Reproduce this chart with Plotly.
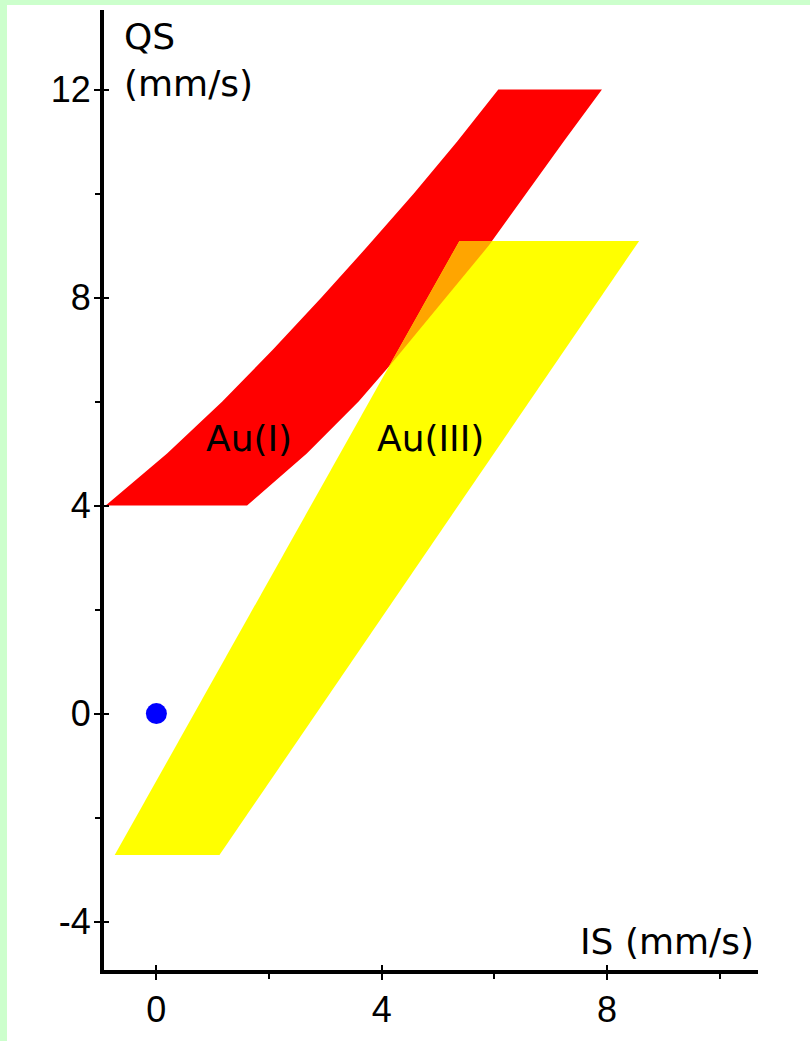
import plotly.graph_objects as go

# Au(I) region outline: upper-left edge (bottom to top), then lower-right edge (top to bottom)
au1_is = [-0.90, 0.19, 1.17, 2.07, 2.93, 3.76, 4.57, 5.34, 6.07,
          7.91, 7.23, 6.56, 5.90, 5.14, 4.39, 3.59, 2.67, 1.61]
au1_qs = [4.0, 5.0, 6.0, 7.0, 8.0, 9.0, 10.0, 11.0, 12.0,
          12.0, 11.0, 10.0, 9.0, 8.0, 7.0, 6.0, 5.0, 4.0]

# Au(III) region corners
au3_is = [-0.74, 1.12, 8.57, 5.38]
au3_qs = [-2.72, -2.72, 9.09, 9.09]

# Reference point
ref_is = [0.0]
ref_qs = [0.0]

x_ticks = [0, 4, 8]
y_ticks = [-4, 0, 4, 8, 12]

TICK_FONT = "Arial, Liberation Sans, sans-serif"
TEXT_FONT = "DejaVu Sans, Arial, sans-serif"
FS = 36
ML, MR, MT, MB = 104, 52, 10, 71
W, H = 810, 1041


def clip_polygon(subject, clipper):
    """Sutherland-Hodgman clipping of a polygon by a convex polygon."""
    def area2(poly):
        s = 0.0
        for i in range(len(poly)):
            x1, y1 = poly[i]
            x2, y2 = poly[(i + 1) % len(poly)]
            s += x1 * y2 - x2 * y1
        return s

    sign = 1.0 if area2(clipper) > 0 else -1.0

    def inside(p, a, b):
        return sign * ((b[0] - a[0]) * (p[1] - a[1]) - (b[1] - a[1]) * (p[0] - a[0])) >= 0

    def intersect(p, q, a, b):
        x1, y1 = p
        x2, y2 = q
        x3, y3 = a
        x4, y4 = b
        den = (x1 - x2) * (y3 - y4) - (y1 - y2) * (x3 - x4)
        t = ((x1 - x3) * (y3 - y4) - (y1 - y3) * (x3 - x4)) / den
        return (x1 + t * (x2 - x1), y1 + t * (y2 - y1))

    out = list(subject)
    for i in range(len(clipper)):
        a = clipper[i]
        b = clipper[(i + 1) % len(clipper)]
        inp = out
        out = []
        if not inp:
            break
        prev = inp[-1]
        for cur in inp:
            if inside(cur, a, b):
                if not inside(prev, a, b):
                    out.append(intersect(prev, cur, a, b))
                out.append(cur)
            elif inside(prev, a, b):
                out.append(intersect(prev, cur, a, b))
            prev = cur
    return out


overlap = clip_polygon(list(zip(au1_is, au1_qs)), list(zip(au3_is, au3_qs)))
ov_is = [p[0] for p in overlap]
ov_qs = [p[1] for p in overlap]

fig = go.Figure()

fig.add_trace(go.Scatter(
    x=au1_is + [au1_is[0]], y=au1_qs + [au1_qs[0]],
    fill="toself", fillcolor="#FF0000", mode="lines",
    line=dict(width=0, color="#FF0000"), hoverinfo="skip", showlegend=False))

fig.add_trace(go.Scatter(
    x=au3_is + [au3_is[0]], y=au3_qs + [au3_qs[0]],
    fill="toself", fillcolor="#FFFF00", mode="lines",
    line=dict(width=0, color="#FFFF00"), hoverinfo="skip", showlegend=False))

fig.add_trace(go.Scatter(
    x=ov_is + [ov_is[0]], y=ov_qs + [ov_qs[0]],
    fill="toself", fillcolor="#FFA500", mode="lines",
    line=dict(width=0, color="#FFA500"), hoverinfo="skip", showlegend=False))

fig.add_trace(go.Scatter(
    x=ref_is, y=ref_qs, mode="markers",
    marker=dict(size=21, color="#0000FF"), showlegend=False))

fig.add_annotation(x=1.65, y=5.3, text="Au(I)", showarrow=False,
                   font=dict(family=TEXT_FONT, size=FS, color="black"))
fig.add_annotation(x=4.86, y=5.3, text="Au(III)", showarrow=False,
                   font=dict(family=TEXT_FONT, size=FS, color="black"))

pw = W - ML - MR
ph = H - MT - MB

fig.add_annotation(xref="paper", yref="paper",
                   x=(122 - ML) / pw, y=(H - MB - 14) / ph,
                   xanchor="left", yanchor="top", align="left",
                   text="QS<br>(mm/s)", showarrow=False,
                   font=dict(family=TEXT_FONT, size=FS, color="black"))
fig.add_annotation(xref="paper", yref="paper",
                   x=(667 - ML) / pw, y=6 / ph,
                   xanchor="center", yanchor="bottom",
                   text="IS (mm/s)", showarrow=False,
                   font=dict(family=TEXT_FONT, size=FS, color="black"))

# light green frame along the top and left edges of the page
fig.add_shape(type="rect", xref="paper", yref="paper", layer="above",
              x0=-ML / pw, x1=(W - ML) / pw,
              y0=(H - MB - 5) / ph, y1=(H - MB) / ph,
              fillcolor="#CCFFCC", line=dict(width=0))
fig.add_shape(type="rect", xref="paper", yref="paper", layer="above",
              x0=-ML / pw, x1=(7 - ML) / pw,
              y0=-MB / ph, y1=(H - MB) / ph,
              fillcolor="#CCFFCC", line=dict(width=0))

x_range = [-0.93, 10.68]
y_range = [-4.93, 13.53]

common = dict(showgrid=False, zeroline=False, showline=True, linecolor="black",
              linewidth=4, tickcolor="black", tickwidth=2, ticklen=6,
              ticks="outside", automargin=False,
              tickfont=dict(family=TICK_FONT, size=FS, color="black"))

fig.update_layout(
    width=W, height=H,
    margin=dict(l=ML, r=MR, t=MT, b=MB, pad=0, autoexpand=False),
    paper_bgcolor="white", plot_bgcolor="white",
    showlegend=False,
    xaxis=dict(range=x_range, tickvals=x_ticks, ticktext=[str(v) for v in x_ticks],
               ticklabelstandoff=-1,
               minor=dict(ticks="outside", ticklen=5, tickwidth=2, tickcolor="black",
                          tick0=0, dtick=2),
               **common),
    yaxis=dict(range=y_range, tickvals=y_ticks, ticktext=[str(v) for v in y_ticks],
               ticklabelstandoff=-4,
               minor=dict(ticks="outside", ticklen=5, tickwidth=2, tickcolor="black",
                          tick0=0, dtick=2),
               **common),
    # inner halves of the major ticks
    xaxis2=dict(overlaying="x", matches="x", range=x_range, tickvals=x_ticks,
                ticks="inside", ticklen=5, tickwidth=2, tickcolor="black",
                showticklabels=False, showgrid=False, zeroline=False, showline=False,
                side="bottom", automargin=False),
    yaxis2=dict(overlaying="y", matches="y", range=y_range, tickvals=y_ticks,
                ticks="inside", ticklen=5, tickwidth=2, tickcolor="black",
                showticklabels=False, showgrid=False, zeroline=False, showline=False,
                side="left", automargin=False),
)

fig.add_trace(go.Scatter(x=[None], y=[None], xaxis="x2", yaxis="y2",
                         showlegend=False, hoverinfo="skip"))

fig.write_html("out.html")
